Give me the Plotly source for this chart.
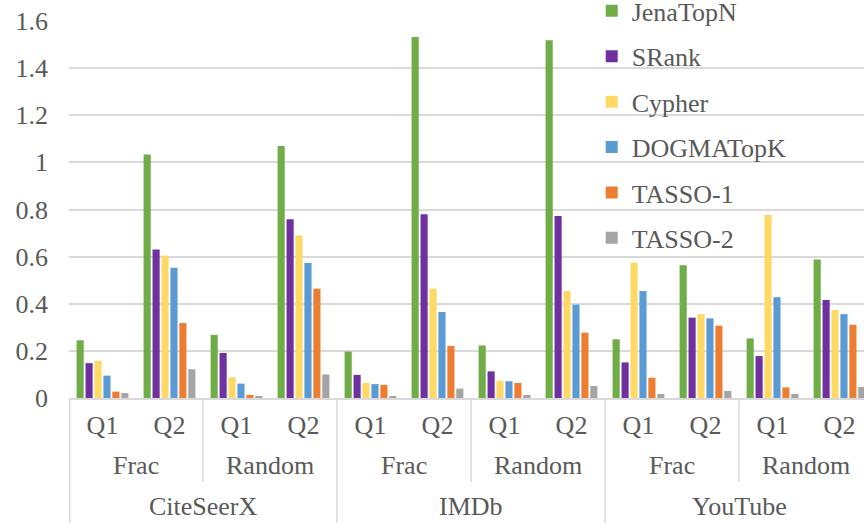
import plotly.graph_objects as go

# Category hierarchy: dataset > sampling mode > query
datasets = ["CiteSeerX", "IMDb", "YouTube"]
modes = ["Frac", "Random"]
queries = ["Q1", "Q2"]

# Series values, one per (dataset, mode, query) in the order above
series_names = ["JenaTopN", "SRank", "Cypher", "DOGMATopK", "TASSO-1", "TASSO-2"]
jena_topn = [0.245, 1.033, 0.268, 1.070, 0.197, 1.532, 0.223, 1.518, 0.249, 0.563, 0.253, 0.588]
srank = [0.148, 0.630, 0.191, 0.759, 0.098, 0.780, 0.113, 0.772, 0.151, 0.341, 0.178, 0.416]
cypher = [0.158, 0.605, 0.088, 0.690, 0.064, 0.464, 0.073, 0.454, 0.574, 0.356, 0.777, 0.373]
dogma_topk = [0.095, 0.553, 0.061, 0.573, 0.059, 0.365, 0.071, 0.396, 0.454, 0.338, 0.428, 0.356]
tasso_1 = [0.027, 0.318, 0.013, 0.464, 0.056, 0.221, 0.064, 0.277, 0.086, 0.307, 0.045, 0.311]
tasso_2 = [0.021, 0.122, 0.008, 0.100, 0.008, 0.040, 0.013, 0.051, 0.017, 0.030, 0.017, 0.047]
series_values = [jena_topn, srank, cypher, dogma_topk, tasso_1, tasso_2]
colors = ["#70AD47", "#7030A0", "#FFD966", "#5B9BD5", "#ED7D31", "#A5A5A5"]

y_ticks = [0, 0.2, 0.4, 0.6, 0.8, 1, 1.2, 1.4, 1.6]

FONT = "Liberation Serif"
TEXT = "#595959"
LINE = "#d9d9d9"
FS = 26


def tfont():
    return dict(family=FONT, size=FS, color=TEXT)


# Flat category positions
labels = [(d, m, q) for d in datasets for m in modes for q in queries]
xpos = list(range(len(labels)))

fig = go.Figure()
for name, vals, col in zip(series_names, series_values, colors):
    fig.add_trace(go.Bar(
        x=xpos, y=vals, name=name, legendgroup=name,
        marker=dict(color=col, line=dict(width=0)),
    ))

# Divider lines and labels for the mode and dataset levels
n_q = len(queries)
n_dm = len(modes) * n_q
for di, d in enumerate(datasets):
    start = di * n_dm - 0.5
    xline = start + (0.01 if di == 0 else 0)
    fig.add_shape(type="line", xref="x", yref="paper",
                  x0=xline, x1=xline, y0=0, y1=-0.35,
                  line=dict(color=LINE, width=1.5))
    fig.add_annotation(x=start + n_dm / 2, y=-0.288, xref="x", yref="paper",
                       text=d, showarrow=False, yanchor="middle", font=tfont())
    for mi, m in enumerate(modes):
        mstart = start + mi * n_q
        if mi > 0:
            fig.add_shape(type="line", xref="x", yref="paper",
                          x0=mstart, x1=mstart, y0=0, y1=-0.223,
                          line=dict(color=LINE, width=1.5))
        fig.add_annotation(x=mstart + n_q / 2, y=-0.180, xref="x", yref="paper",
                           text=m, showarrow=False, yanchor="middle", font=tfont())

fig.update_layout(
    width=864, height=523,
    margin=dict(l=69, r=0, t=21, b=125, autoexpand=False),
    paper_bgcolor="white", plot_bgcolor="white",
    barmode="group", bargap=0.2, bargroupgap=0.2,
    legend=dict(x=0.6575, y=1.089, xanchor="left", yanchor="top",
                bgcolor="rgba(0,0,0,0)", tracegroupgap=8.6, maxheight=600,
                font=tfont()),
    xaxis=dict(range=[-0.5, -0.5 + 795 / 67], tickvals=xpos,
               ticktext=[q for (_, _, q) in labels], showgrid=False,
               showline=True, linecolor=LINE, linewidth=1.5,
               ticks="", zeroline=False, ticklabelstandoff=3, tickfont=tfont()),
    yaxis=dict(range=[0, 1.6], tickvals=y_ticks,
               ticktext=[f"{v:g}" for v in y_ticks],
               showgrid=True, gridcolor=LINE, gridwidth=1.5,
               zeroline=False, showline=False, ticks="",
               ticklabelstandoff=20, tickfont=tfont()),
)

fig.write_html("out.html")
